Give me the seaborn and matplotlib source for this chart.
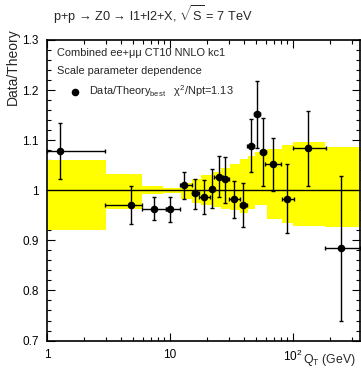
import numpy as np
import pandas as pd
import seaborn as sns
import matplotlib
matplotlib.use("Agg")
import matplotlib.pyplot as plt
from matplotlib.ticker import FixedLocator, FixedFormatter, MultipleLocator, FuncFormatter, LogLocator, NullFormatter


# data points
qt=[1.28,4.79,7.46,10.0,12.9,16.0,19.0,21.9,25.0,28.2,33.3,39.2,45.3,51.0,57.0,69.2,89.4,132.4,245.6]
ratio=[1.078,0.971,0.963,0.962,1.010,0.994,0.987,1.003,1.027,1.022,0.982,0.971,1.089,1.152,1.076,1.052,0.983,1.084,0.884]
qt_lo=[1.0,2.98,5.95,9.2,12.1,15.0,17.2,21.1,22.8,26.9,30.0,37.0,42.2,48.0,54.0,59.4,81.0,100.6,181.0]
qt_hi=[2.98,5.95,9.2,12.1,15.0,17.2,21.1,22.8,26.9,30.0,37.0,42.2,48.0,54.0,60.0,80.2,101.6,184.0,350.0]
ratio_lo=[1.022,0.932,0.941,0.937,0.982,0.962,0.952,0.964,0.986,0.975,0.945,0.927,1.037,1.085,1.008,0.999,0.914,1.009,0.739]
ratio_hi=[1.134,1.009,0.986,0.987,1.037,1.023,1.020,1.042,1.068,1.067,1.019,1.015,1.142,1.218,1.145,1.105,1.052,1.158,1.029]

# scale dependence band (step edges)
band_edges=[1.0,3.0,5.9,8.8,12.4,15.0,18.0,22.0,26.0,30.7,37.0,42.7,49.0,61.0,81.0,100.0,182.0,350.0]
band_lo=[0.920,0.962,0.993,0.995,0.983,0.975,0.970,0.966,0.963,0.960,0.955,0.963,0.970,0.942,0.935,0.929,0.926]
band_hi=[1.060,1.033,1.009,1.005,1.015,1.022,1.030,1.036,1.044,1.052,1.063,1.068,1.076,1.083,1.090,1.097,1.087]

y_ticks=[0.7,0.8,0.9,1.0,1.1,1.2,1.3]
x_ticks=[1,10,100]
x_tick_labels=["1","10","$10^{2}$"]


def main():
    sns.set_style("ticks")
    fam="Liberation Sans"
    plt.rcParams["font.family"]=[fam,"DejaVu Sans"]
    plt.rcParams["mathtext.fontset"]="custom"
    plt.rcParams["mathtext.rm"]=fam
    plt.rcParams["mathtext.it"]=fam+":italic"

    df=pd.DataFrame({"qt":qt,"ratio":ratio})

    fig=plt.figure(figsize=(3.61,3.73),dpi=100)
    ax=fig.add_axes([0.130,0.087,0.867,0.806])

    # theory scale band
    ax.fill_between(band_edges,band_lo+[band_lo[-1]],band_hi+[band_hi[-1]],step="post",color="#ffff00",lw=0,zorder=1)
    ax.axhline(1.0,color="black",lw=1.0,zorder=2)

    xerr=[np.array(qt)-np.array(qt_lo),np.array(qt_hi)-np.array(qt)]
    yerr=[np.array(ratio)-np.array(ratio_lo),np.array(ratio_hi)-np.array(ratio)]
    ax.errorbar(qt,ratio,xerr=xerr,yerr=yerr,fmt="none",ecolor="black",elinewidth=1.0,capsize=1.5,capthick=1.0,zorder=3)
    sns.scatterplot(data=df,x="qt",y="ratio",ax=ax,color="black",s=30,edgecolor="black",linewidth=0,zorder=4,
                    label="Data/Theory$_{\\mathregular{best}}$   \u03c7$^{2}$/Npt=1.13")

    ax.set_xscale("log")
    ax.set_xlim(1,350)
    ax.set_ylim(0.7,1.3)

    ax.xaxis.set_major_locator(FixedLocator(x_ticks))
    ax.xaxis.set_major_formatter(FixedFormatter(x_tick_labels))
    ax.xaxis.set_minor_locator(LogLocator(base=10,subs=np.arange(2,10)))
    ax.xaxis.set_minor_formatter(NullFormatter())
    ax.yaxis.set_major_locator(FixedLocator(y_ticks))
    ax.yaxis.set_major_formatter(FuncFormatter(lambda v,p:f"{v:g}"))
    ax.yaxis.set_minor_locator(MultipleLocator(0.02))

    ax.tick_params(which="both",direction="in",top=True,right=True,width=0.8,colors="black",labelsize=8.5)
    ax.tick_params(axis="y",which="major",length=6,pad=6)
    ax.tick_params(axis="x",which="major",length=6,pad=6)
    ax.tick_params(which="minor",length=3)
    for s in ax.spines.values():
        s.set_linewidth(1.2)
        s.set_color("black")

    ax.set_xlabel("")
    ax.set_ylabel("")
    fig.text(0.035,0.925,"Data/Theory",rotation=90,ha="center",va="top",fontsize=10)
    fig.text(0.838,0.014,"Q$_{\\mathregular{T}}$ (GeV)",ha="left",va="bottom",fontsize=8.8)
    fig.text(0.147,0.96,"p+p \u2192 Z0 \u2192 l1+l2+X, $\\sqrt{\\mathregular{S}}$ = 7 TeV",ha="left",va="center",fontsize=9.2)

    ax.text(0.032,0.955,"Combined ee+\u03bc\u03bc CT10 NNLO kc1",transform=ax.transAxes,ha="left",va="center",fontsize=7.9)
    ax.text(0.032,0.895,"Scale parameter dependence",transform=ax.transAxes,ha="left",va="center",fontsize=7.9)
    ax.legend(loc="upper left",bbox_to_anchor=(0.058,0.87),frameon=False,fontsize=7.9,handletextpad=0.8,borderaxespad=0,handlelength=1.0)

    fig.savefig("out.png",dpi=100)
    plt.close(fig)


if __name__=="__main__":
    main()
